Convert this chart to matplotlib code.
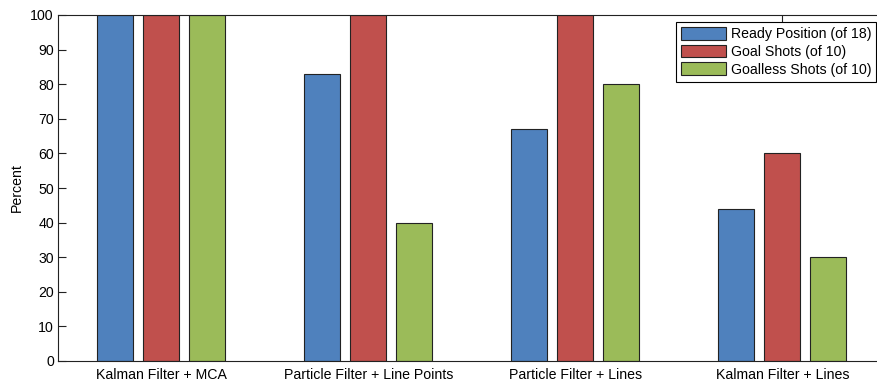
import matplotlib.pyplot as plt
import numpy as np

plt.rcParams['font.family'] = ['Liberation Sans', 'DejaVu Sans']

categories = ["Kalman Filter + MCA", "Particle Filter + Line Points",
              "Particle Filter + Lines", "Kalman Filter + Lines"]
series_names = ["Ready Position (of 18)", "Goal Shots (of 10)", "Goalless Shots (of 10)"]
ready = [100, 83, 67, 44]
goal = [100, 100, 100, 60]
goalless = [100, 40, 80, 30]
colors = ["#4f81bd", "#c0504d", "#9bbb59"]

fig = plt.figure(figsize=(8.78, 3.81), dpi=100)
# axes runs a little past the right edge, as in the original
ax = fig.add_axes([58 / 878, 20 / 381, 828 / 878, 346 / 381])

x = np.arange(1, len(categories) + 1)
width = 0.174
step = 0.222
for i, (vals, name, c) in enumerate(zip([ready, goal, goalless], series_names, colors)):
    ax.bar(x + (i - 1) * step - 0.004, vals, width, color=c, edgecolor="#222222",
           linewidth=0.8, label=name)

fs = 10.2
ax.set_xlim(0.5, 4.5)
ax.set_ylim(0, 100)
ax.set_yticks(np.arange(0, 101, 10))
ax.set_xticks(x)
ax.set_xticklabels(categories)
ax.set_axisbelow(True)
ax.tick_params(direction="in", length=6, width=0.8, labelsize=fs,
               top=True, right=False, colors="#222222", labelcolor="black")
ax.tick_params(axis="x", pad=5)
ax.tick_params(axis="y", pad=3)
for s in ax.spines.values():
    s.set_color("#222222")
    s.set_linewidth(0.8)
ax.set_ylabel("Percent", fontsize=fs, labelpad=5)

leg = ax.legend(loc="upper right", bbox_to_anchor=(876 / 878, 1 - 22 / 381),
                bbox_transform=fig.transFigure, borderaxespad=0, fontsize=fs,
                fancybox=False, framealpha=1, edgecolor="black",
                handlelength=3.2, handleheight=1.0, handletextpad=0.3,
                labelspacing=0.25, borderpad=0.35)
leg.get_frame().set_linewidth(0.8)

fig.savefig("out.png", dpi=100)
